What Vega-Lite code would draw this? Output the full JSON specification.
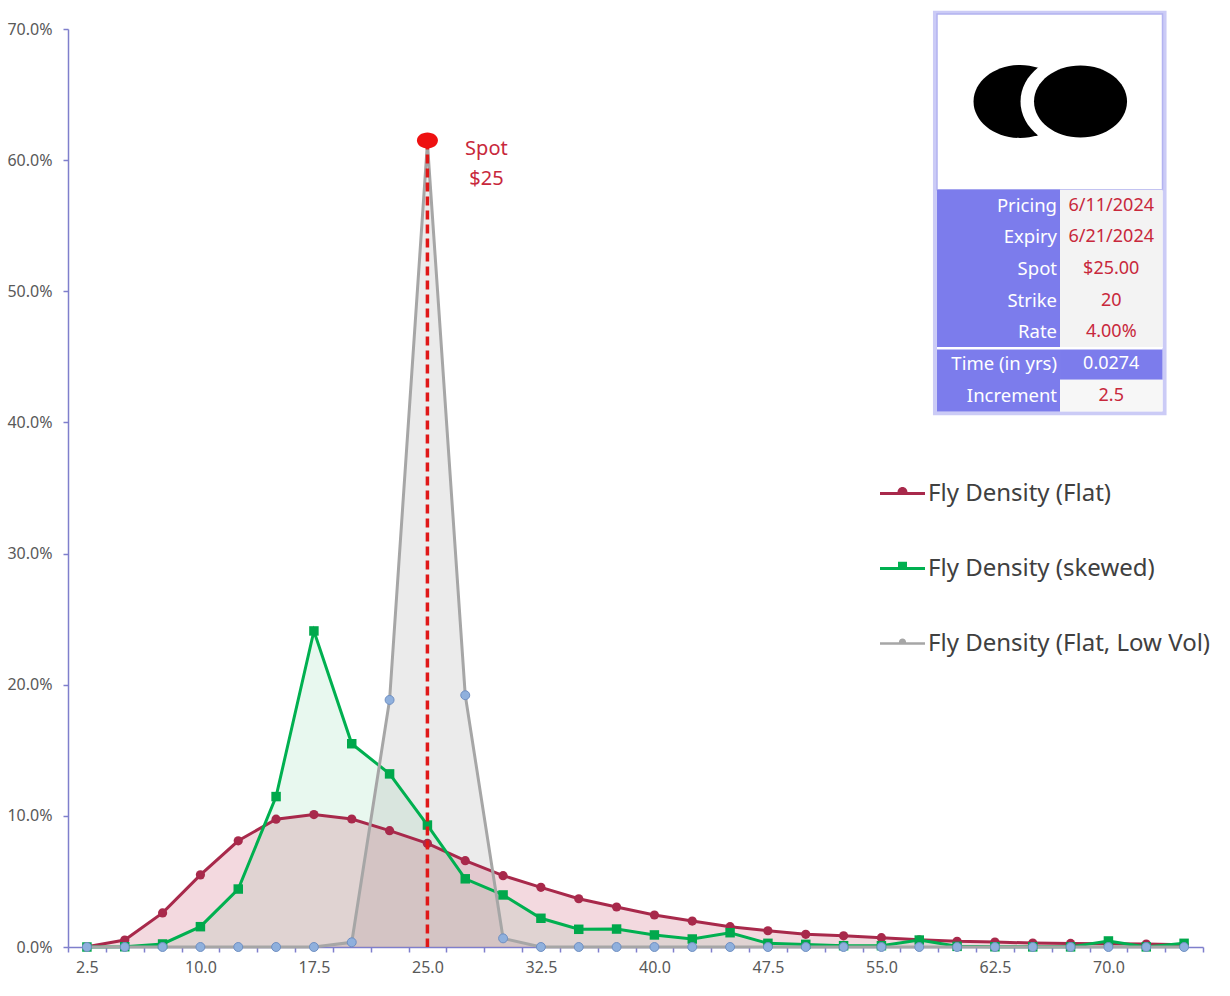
{
  "$schema": "https://vega.github.io/schema/vega-lite/v6.json",
  "width": 1135,
  "height": 918,
  "autosize": {"type": "none"},
  "padding": {"left": 68, "top": 29, "right": 27, "bottom": 49},
  "background": "white",
  "config": {
    "view": {"stroke": null},
    "font": "Noto Sans",
    "axis": {
      "domainColor": "#7F7FCC",
      "domainWidth": 1.5,
      "tickColor": "#7F7FCC",
      "tickWidth": 1.5,
      "tickSize": 5,
      "labelColor": "#595959",
      "labelFont": "Noto Sans",
      "labelFontSize": 16,
      "grid": false
    },
    "axisX": {"labelPadding": 7},
    "axisY": {"labelPadding": 11}
  },
  "datasets": {
    "density": [
      {"strike": 2.5, "series": "Fly Density (Flat)", "density": 0.0002},
      {"strike": 5, "series": "Fly Density (Flat)", "density": 0.0053},
      {"strike": 7.5, "series": "Fly Density (Flat)", "density": 0.026},
      {"strike": 10, "series": "Fly Density (Flat)", "density": 0.055},
      {"strike": 12.5, "series": "Fly Density (Flat)", "density": 0.081},
      {"strike": 15, "series": "Fly Density (Flat)", "density": 0.0975},
      {"strike": 17.5, "series": "Fly Density (Flat)", "density": 0.101},
      {"strike": 20, "series": "Fly Density (Flat)", "density": 0.0976},
      {"strike": 22.5, "series": "Fly Density (Flat)", "density": 0.0887},
      {"strike": 25, "series": "Fly Density (Flat)", "density": 0.079},
      {"strike": 27.5, "series": "Fly Density (Flat)", "density": 0.0658},
      {"strike": 30, "series": "Fly Density (Flat)", "density": 0.0544},
      {"strike": 32.5, "series": "Fly Density (Flat)", "density": 0.0455},
      {"strike": 35, "series": "Fly Density (Flat)", "density": 0.0368},
      {"strike": 37.5, "series": "Fly Density (Flat)", "density": 0.0305},
      {"strike": 40, "series": "Fly Density (Flat)", "density": 0.0244},
      {"strike": 42.5, "series": "Fly Density (Flat)", "density": 0.0198},
      {"strike": 45, "series": "Fly Density (Flat)", "density": 0.0155},
      {"strike": 47.5, "series": "Fly Density (Flat)", "density": 0.0124},
      {"strike": 50, "series": "Fly Density (Flat)", "density": 0.0097},
      {"strike": 52.5, "series": "Fly Density (Flat)", "density": 0.0085},
      {"strike": 55, "series": "Fly Density (Flat)", "density": 0.0071},
      {"strike": 57.5, "series": "Fly Density (Flat)", "density": 0.0055},
      {"strike": 60, "series": "Fly Density (Flat)", "density": 0.0043},
      {"strike": 62.5, "series": "Fly Density (Flat)", "density": 0.0038},
      {"strike": 65, "series": "Fly Density (Flat)", "density": 0.003},
      {"strike": 67.5, "series": "Fly Density (Flat)", "density": 0.0027},
      {"strike": 70, "series": "Fly Density (Flat)", "density": 0.0024},
      {"strike": 72.5, "series": "Fly Density (Flat)", "density": 0.0022},
      {"strike": 75, "series": "Fly Density (Flat)", "density": 0.0018},
      {"strike": 2.5, "series": "Fly Density (skewed)", "density": 0.0},
      {"strike": 5, "series": "Fly Density (skewed)", "density": 0.0002},
      {"strike": 7.5, "series": "Fly Density (skewed)", "density": 0.0023},
      {"strike": 10, "series": "Fly Density (skewed)", "density": 0.0155},
      {"strike": 12.5, "series": "Fly Density (skewed)", "density": 0.0442},
      {"strike": 15, "series": "Fly Density (skewed)", "density": 0.1147},
      {"strike": 17.5, "series": "Fly Density (skewed)", "density": 0.241},
      {"strike": 20, "series": "Fly Density (skewed)", "density": 0.155},
      {"strike": 22.5, "series": "Fly Density (skewed)", "density": 0.132},
      {"strike": 25, "series": "Fly Density (skewed)", "density": 0.093},
      {"strike": 27.5, "series": "Fly Density (skewed)", "density": 0.052},
      {"strike": 30, "series": "Fly Density (skewed)", "density": 0.0397},
      {"strike": 32.5, "series": "Fly Density (skewed)", "density": 0.0219},
      {"strike": 35, "series": "Fly Density (skewed)", "density": 0.0135},
      {"strike": 37.5, "series": "Fly Density (skewed)", "density": 0.0137},
      {"strike": 40, "series": "Fly Density (skewed)", "density": 0.0092},
      {"strike": 42.5, "series": "Fly Density (skewed)", "density": 0.0061},
      {"strike": 45, "series": "Fly Density (skewed)", "density": 0.0109},
      {"strike": 47.5, "series": "Fly Density (skewed)", "density": 0.0028},
      {"strike": 50, "series": "Fly Density (skewed)", "density": 0.002},
      {"strike": 52.5, "series": "Fly Density (skewed)", "density": 0.001},
      {"strike": 55, "series": "Fly Density (skewed)", "density": 0.001},
      {"strike": 57.5, "series": "Fly Density (skewed)", "density": 0.0053},
      {"strike": 60, "series": "Fly Density (skewed)", "density": 0.0005},
      {"strike": 62.5, "series": "Fly Density (skewed)", "density": 0.0002},
      {"strike": 65, "series": "Fly Density (skewed)", "density": 0.0001},
      {"strike": 67.5, "series": "Fly Density (skewed)", "density": 0.0001},
      {"strike": 70, "series": "Fly Density (skewed)", "density": 0.0046},
      {"strike": 72.5, "series": "Fly Density (skewed)", "density": 0.0001},
      {"strike": 75, "series": "Fly Density (skewed)", "density": 0.0028},
      {"strike": 2.5, "series": "Fly Density (Flat, Low Vol)", "density": 0},
      {"strike": 5, "series": "Fly Density (Flat, Low Vol)", "density": 0},
      {"strike": 7.5, "series": "Fly Density (Flat, Low Vol)", "density": 0},
      {"strike": 10, "series": "Fly Density (Flat, Low Vol)", "density": 0},
      {"strike": 12.5, "series": "Fly Density (Flat, Low Vol)", "density": 0},
      {"strike": 15, "series": "Fly Density (Flat, Low Vol)", "density": 0},
      {"strike": 17.5, "series": "Fly Density (Flat, Low Vol)", "density": 0},
      {"strike": 20, "series": "Fly Density (Flat, Low Vol)", "density": 0.0036},
      {"strike": 22.5, "series": "Fly Density (Flat, Low Vol)", "density": 0.1884},
      {"strike": 25, "series": "Fly Density (Flat, Low Vol)", "density": 0.613},
      {"strike": 27.5, "series": "Fly Density (Flat, Low Vol)", "density": 0.192},
      {"strike": 30, "series": "Fly Density (Flat, Low Vol)", "density": 0.0066},
      {"strike": 32.5, "series": "Fly Density (Flat, Low Vol)", "density": 0},
      {"strike": 35, "series": "Fly Density (Flat, Low Vol)", "density": 0},
      {"strike": 37.5, "series": "Fly Density (Flat, Low Vol)", "density": 0},
      {"strike": 40, "series": "Fly Density (Flat, Low Vol)", "density": 0},
      {"strike": 42.5, "series": "Fly Density (Flat, Low Vol)", "density": 0},
      {"strike": 45, "series": "Fly Density (Flat, Low Vol)", "density": 0},
      {"strike": 47.5, "series": "Fly Density (Flat, Low Vol)", "density": 0},
      {"strike": 50, "series": "Fly Density (Flat, Low Vol)", "density": 0},
      {"strike": 52.5, "series": "Fly Density (Flat, Low Vol)", "density": 0},
      {"strike": 55, "series": "Fly Density (Flat, Low Vol)", "density": 0},
      {"strike": 57.5, "series": "Fly Density (Flat, Low Vol)", "density": 0},
      {"strike": 60, "series": "Fly Density (Flat, Low Vol)", "density": 0},
      {"strike": 62.5, "series": "Fly Density (Flat, Low Vol)", "density": 0},
      {"strike": 65, "series": "Fly Density (Flat, Low Vol)", "density": 0},
      {"strike": 67.5, "series": "Fly Density (Flat, Low Vol)", "density": 0},
      {"strike": 70, "series": "Fly Density (Flat, Low Vol)", "density": 0},
      {"strike": 72.5, "series": "Fly Density (Flat, Low Vol)", "density": 0},
      {"strike": 75, "series": "Fly Density (Flat, Low Vol)", "density": 0}
    ],
    "spot": [{"strike": 25, "density": 0.615, "label": "Spot\n$25"}],
    "entries": [
      {"series": "Fly Density (Flat)"},
      {"series": "Fly Density (skewed)"},
      {"series": "Fly Density (Flat, Low Vol)"}
    ],
    "panel": [
      {"row": 0, "label": "Pricing", "value": "6/11/2024"},
      {"row": 1, "label": "Expiry", "value": "6/21/2024"},
      {"row": 2, "label": "Spot", "value": "$25.00"},
      {"row": 3, "label": "Strike", "value": "20"},
      {"row": 4, "label": "Rate", "value": "4.00%"},
      {"row": 5, "label": "Time (in yrs)", "value": "0.0274"},
      {"row": 6, "label": "Increment", "value": "2.5"}
    ],
    "one": [{"id": 1}]
  },
  "layer": [
    {
      "layer": [
        {
          "data": {"name": "density"},
          "transform": [{"filter": "datum.series == 'Fly Density (skewed)'"}],
          "mark": {"type": "area", "fill": "#2DBE6C", "fillOpacity": 0.11},
          "encoding": {
            "x": {"field": "strike", "type": "ordinal", "bandPosition": 0.5, "scale": {"type": "band", "paddingInner": 0, "paddingOuter": 0}, "axis": {"title": null, "labelAngle": 0, "tickBand": "extent", "labelExpr": "(datum.value - 2.5) % 7.5 == 0 ? format(datum.value, '.1f') : ''"}},
            "y": {"field": "density", "type": "quantitative", "stack": null, "scale": {"domain": [0, 0.7], "nice": false, "zero": true}, "axis": {"title": null, "format": ".1%", "values": [0, 0.1, 0.2, 0.3, 0.4, 0.5, 0.6, 0.7]}}
          }
        },
        {
          "data": {"name": "density"},
          "transform": [{"filter": "datum.series == 'Fly Density (Flat, Low Vol)'"}],
          "mark": {"type": "area", "fill": "#A6A6A6", "fillOpacity": 0.22},
          "encoding": {
            "x": {"field": "strike", "type": "ordinal", "bandPosition": 0.5, "axis": {"title": null}},
            "y": {"field": "density", "type": "quantitative", "stack": null, "axis": {"title": null}}
          }
        },
        {
          "data": {"name": "density"},
          "transform": [{"filter": "datum.series == 'Fly Density (Flat)'"}],
          "mark": {"type": "area", "fill": "#C4425E", "fillOpacity": 0.2},
          "encoding": {
            "x": {"field": "strike", "type": "ordinal", "bandPosition": 0.5, "axis": {"title": null}},
            "y": {"field": "density", "type": "quantitative", "stack": null, "axis": {"title": null}}
          }
        },
        {
          "data": {"name": "density"},
          "mark": {"type": "line", "strokeWidth": 3},
          "encoding": {
            "x": {"field": "strike", "type": "ordinal", "bandPosition": 0.5, "axis": {"title": null}},
            "y": {"field": "density", "type": "quantitative", "stack": null, "axis": {"title": null}},
            "stroke": {"field": "series", "type": "nominal", "scale": {"range": ["#A8294B", "#A6A6A6", "#00B050"]}, "legend": null}
          }
        },
        {
          "data": {"name": "density"},
          "transform": [{"filter": "datum.series == 'Fly Density (Flat)'"}],
          "mark": {"type": "point", "shape": "circle", "filled": true, "size": 85, "color": "#A8294B", "opacity": 1},
          "encoding": {
            "x": {"field": "strike", "type": "ordinal", "bandPosition": 0.5, "axis": {"title": null}},
            "y": {"field": "density", "type": "quantitative", "axis": {"title": null}}
          }
        },
        {
          "data": {"name": "density"},
          "transform": [{"filter": "datum.series == 'Fly Density (skewed)'"}],
          "mark": {"type": "point", "shape": "square", "filled": true, "size": 90, "color": "#00A84C", "opacity": 1},
          "encoding": {
            "x": {"field": "strike", "type": "ordinal", "bandPosition": 0.5, "axis": {"title": null}},
            "y": {"field": "density", "type": "quantitative", "axis": {"title": null}}
          }
        },
        {
          "data": {"name": "density"},
          "transform": [{"filter": "datum.series == 'Fly Density (Flat, Low Vol)'"}],
          "mark": {"type": "point", "shape": "circle", "filled": true, "size": 80, "fill": "#8FB0DD", "stroke": "#6F8FC2", "strokeWidth": 1, "opacity": 1},
          "encoding": {
            "x": {"field": "strike", "type": "ordinal", "bandPosition": 0.5, "axis": {"title": null}},
            "y": {"field": "density", "type": "quantitative", "axis": {"title": null}}
          }
        },
        {
          "data": {"name": "spot"},
          "mark": {"type": "rule", "color": "#E01818", "strokeWidth": 3.5, "strokeDash": [9, 5]},
          "encoding": {
            "x": {"field": "strike", "type": "ordinal", "bandPosition": 0.5, "axis": {"title": null}},
            "y": {"field": "density", "type": "quantitative", "axis": {"title": null}},
            "y2": {"datum": 0}
          }
        },
        {
          "data": {"name": "spot"},
          "mark": {"type": "point", "shape": "M-1,0A1,0.76 0 1,1 1,0A1,0.76 0 1,1 -1,0Z", "filled": true, "size": 441, "color": "#EE1111", "opacity": 1},
          "encoding": {
            "x": {"field": "strike", "type": "ordinal", "bandPosition": 0.5, "axis": {"title": null}},
            "y": {"field": "density", "type": "quantitative", "axis": {"title": null}}
          }
        },
        {
          "data": {"name": "spot"},
          "mark": {"type": "text", "color": "#C8283C", "fontSize": 20, "font": "Noto Sans", "align": "center", "baseline": "top", "dx": 59, "dy": -1, "lineHeight": 30, "lineBreak": "\n"},
          "encoding": {
            "x": {"field": "strike", "type": "ordinal", "bandPosition": 0.5, "axis": {"title": null}},
            "y": {"field": "density", "type": "quantitative", "axis": {"title": null}},
            "text": {"field": "label"}
          }
        },
        {
          "data": {"name": "entries"},
          "mark": {"type": "point", "filled": true, "clip": true, "opacity": 1},
          "encoding": {
            "y": {"datum": -1, "type": "quantitative"},
            "color": {
              "field": "series",
              "type": "nominal",
              "scale": {"domain": ["Fly Density (Flat)", "Fly Density (skewed)", "Fly Density (Flat, Low Vol)"], "range": ["#A8294B", "#00B050", "#A6A6A6"]},
              "legend": {
                "title": null,
                "orient": "none",
                "legendX": 812,
                "legendY": 442,
                "padding": 0,
                "symbolSize": 2025,
                "symbolOpacity": 1,
                "symbolStrokeWidth": 0,
                "labelFont": "Noto Sans",
                "labelFontSize": 24,
                "labelColor": "#404040",
                "labelOffset": 3,
                "rowPadding": 40,
                "labelLimit": 400,
                "encode": {
                  "symbols": {
                    "update": {
                      "shape": {"signal": "datum.value == 'Fly Density (skewed)' ? 'M-1,-0.07H-0.2V-0.3H0.2V-0.07H1V0.07H-1Z' : (datum.value == 'Fly Density (Flat)' ? 'M-1,-0.07H-0.22A0.22,0.22 0 0 1 0.22,-0.07H1V0.07H-1Z' : 'M-1,-0.06H-0.16A0.16,0.16 0 0 1 0.16,-0.06H1V0.06H-1Z')"}
                    }
                  }
                }
              }
            }
          }
        }
      ]
    },
    {
      "layer": [
        {
          "data": {"name": "one"},
          "mark": {"type": "rect", "fill": "white", "stroke": "#CBCBF6", "strokeWidth": 4},
          "encoding": {
            "x": {"datum": -0.02, "type": "quantitative", "scale": {"domain": [-8.478, 2.595], "nice": false, "zero": false}, "axis": null},
            "x2": {"datum": 2.22},
            "y": {"datum": -6.08, "type": "quantitative", "scale": {"domain": [-5.568, 23.39], "nice": false, "zero": false, "reverse": true}, "axis": null},
            "y2": {"datum": 6.55}
          }
        },
        {
          "data": {"name": "one"},
          "mark": {"type": "rect", "fill": "white", "stroke": "#B3B3F0", "strokeWidth": 1.5},
          "encoding": {
            "x": {"datum": 0, "type": "quantitative", "axis": null},
            "x2": {"datum": 2.2},
            "y": {"datum": -6.04, "type": "quantitative", "axis": null},
            "y2": {"datum": -0.5}
          }
        },
        {
          "data": {"name": "one"},
          "mark": {"type": "rect", "fill": "#7C7CEC"},
          "encoding": {
            "x": {"datum": 0, "type": "quantitative", "axis": null},
            "x2": {"datum": 1.2},
            "y": {"datum": -0.5, "type": "quantitative", "axis": null},
            "y2": {"datum": 6.5}
          }
        },
        {
          "data": {"name": "one"},
          "mark": {"type": "rect", "fill": "#F3F3F3"},
          "encoding": {
            "x": {"datum": 1.2, "type": "quantitative", "axis": null},
            "x2": {"datum": 2.2},
            "y": {"datum": -0.5, "type": "quantitative", "axis": null},
            "y2": {"datum": 4.5}
          }
        },
        {
          "data": {"name": "one"},
          "mark": {"type": "rect", "fill": "#7C7CEC"},
          "encoding": {
            "x": {"datum": 1.2, "type": "quantitative", "axis": null},
            "x2": {"datum": 2.2},
            "y": {"datum": 4.5, "type": "quantitative", "axis": null},
            "y2": {"datum": 5.5}
          }
        },
        {
          "data": {"name": "one"},
          "mark": {"type": "rect", "fill": "#F7F7F7"},
          "encoding": {
            "x": {"datum": 1.2, "type": "quantitative", "axis": null},
            "x2": {"datum": 2.2},
            "y": {"datum": 5.5, "type": "quantitative", "axis": null},
            "y2": {"datum": 6.5}
          }
        },
        {
          "data": {"name": "one"},
          "mark": {"type": "rule", "color": "white", "strokeWidth": 2.5},
          "encoding": {
            "x": {"datum": 0, "type": "quantitative", "axis": null},
            "x2": {"datum": 2.2},
            "y": {"datum": 4.5, "type": "quantitative", "axis": null}
          }
        },
        {
          "data": {"name": "panel"},
          "mark": {"type": "text", "align": "right", "baseline": "middle", "dx": -3, "color": "white", "fontSize": 18.5, "font": "Noto Sans"},
          "encoding": {
            "x": {"datum": 1.2, "type": "quantitative", "axis": null},
            "y": {"field": "row", "type": "quantitative", "axis": null},
            "text": {"field": "label"}
          }
        },
        {
          "data": {"name": "panel"},
          "mark": {"type": "text", "align": "center", "baseline": "middle", "fontSize": 18, "font": "Noto Sans"},
          "encoding": {
            "x": {"datum": 1.7, "type": "quantitative", "axis": null},
            "y": {"field": "row", "type": "quantitative", "axis": null},
            "text": {"field": "value"},
            "color": {"condition": {"test": "datum.row == 5", "value": "white"}, "value": "#C8283C"}
          }
        },
        {
          "data": {"name": "one"},
          "mark": {"type": "point", "shape": "M-1,0A1,0.785 0 1,1 1,0A1,0.785 0 1,1 -1,0Z", "filled": true, "size": 8649, "color": "black", "opacity": 1},
          "encoding": {
            "x": {"datum": 0.81, "type": "quantitative", "axis": null},
            "y": {"datum": -3.281, "type": "quantitative", "axis": null}
          }
        },
        {
          "data": {"name": "one"},
          "mark": {"type": "point", "shape": "M-1,0A1,0.8 0 1,1 1,0A1,0.8 0 1,1 -1,0Z", "filled": true, "size": 14400, "color": "white", "opacity": 1},
          "encoding": {
            "x": {"datum": 1.40, "type": "quantitative", "axis": null},
            "y": {"datum": -3.281, "type": "quantitative", "axis": null}
          }
        },
        {
          "data": {"name": "one"},
          "mark": {"type": "point", "shape": "M-1,0A1,0.775 0 1,1 1,0A1,0.775 0 1,1 -1,0Z", "filled": true, "size": 8649, "color": "black", "opacity": 1},
          "encoding": {
            "x": {"datum": 1.40, "type": "quantitative", "axis": null},
            "y": {"datum": -3.281, "type": "quantitative", "axis": null}
          }
        }
      ]
    }
  ],
  "resolve": {"scale": {"x": "independent", "y": "independent"}}
}
